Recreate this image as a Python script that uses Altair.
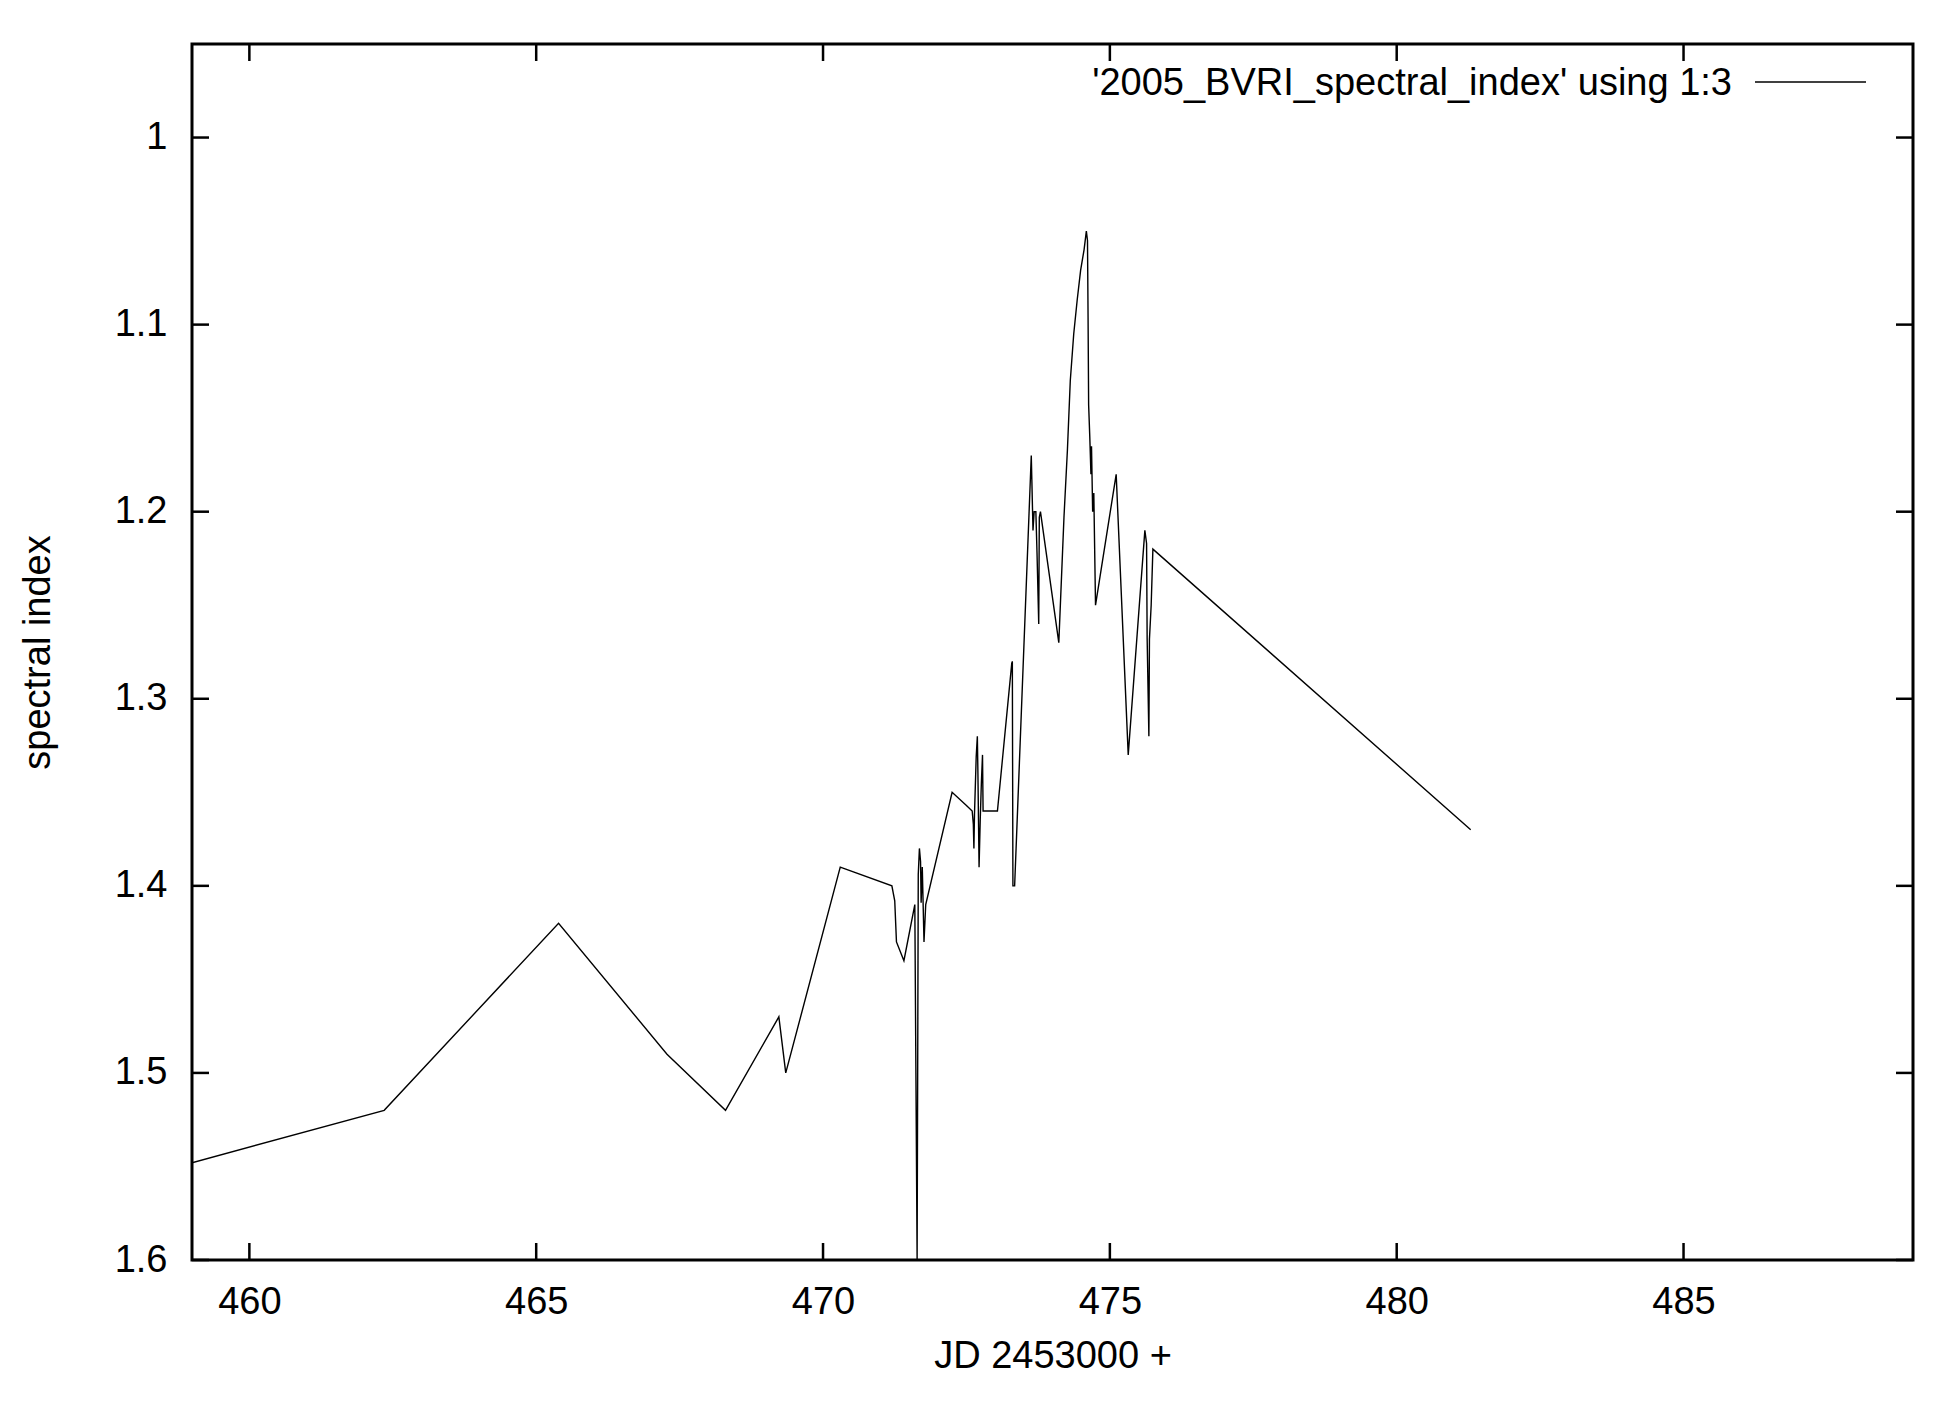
import altair as alt
import pandas as pd

# ---- data ----
jd = [
    459.00, 462.35, 465.39, 467.28, 468.30, 469.23, 469.35, 470.30, 471.20, 471.25,
    471.28, 471.41, 471.60, 471.64, 471.66, 471.68, 471.70, 471.71, 471.73, 471.76,
    471.79, 472.25, 472.50, 472.60, 472.62, 472.63, 472.64, 472.67, 472.69, 472.70,
    472.72, 472.74, 472.76, 472.78, 472.79, 473.04, 473.29, 473.30, 473.31, 473.34,
    473.63, 473.64, 473.66, 473.68, 473.71, 473.73, 473.76, 473.77, 473.79, 474.11,
    474.20, 474.26, 474.31, 474.37, 474.43, 474.49, 474.55,
    474.59, 474.61, 474.62, 474.63, 474.65, 474.67, 474.68, 474.70, 474.72, 474.75,
    475.11, 475.32, 475.61, 475.64, 475.65, 475.68, 475.69, 475.72, 475.75, 481.29,
]
spectral_index = [
    1.548, 1.520, 1.420, 1.490, 1.520, 1.470, 1.500, 1.390, 1.400, 1.408,
    1.430, 1.440, 1.410, 1.600, 1.394, 1.380, 1.387, 1.409, 1.390, 1.430,
    1.410, 1.350, 1.357, 1.360, 1.367, 1.380, 1.362, 1.331, 1.320, 1.340,
    1.390, 1.365, 1.345, 1.330, 1.360, 1.360, 1.281, 1.280, 1.400, 1.400,
    1.170, 1.183, 1.210, 1.200, 1.200, 1.222, 1.260, 1.203, 1.200, 1.270,
    1.203, 1.167, 1.130, 1.105, 1.087, 1.071, 1.060,
    1.050, 1.055, 1.096, 1.143, 1.160, 1.180, 1.165, 1.200, 1.190, 1.250,
    1.180, 1.330, 1.210, 1.217, 1.268, 1.320, 1.268, 1.250, 1.220, 1.370,
]
x_ticks = [460, 465, 470, 475, 480, 485]
y_ticks = [1.0, 1.1, 1.2, 1.3, 1.4, 1.5, 1.6]
x_domain = [459, 489]
y_domain = [0.95, 1.6]
legend_label = "'2005_BVRI_spectral_index' using 1:3"
x_title = "JD 2453000 +"
y_title = "spectral index"

# ---- layout / style ----
W, H = 1721, 1216
FONT = "Liberation Sans"
FS = 38
TICK = 17

df = pd.DataFrame({"jd": jd, "si": spectral_index, "order": list(range(len(jd)))})
xt = pd.DataFrame({"t": x_ticks})
yt = pd.DataFrame({"t": y_ticks})

xs = alt.Scale(domain=x_domain, nice=False, zero=False)
ys = alt.Scale(domain=y_domain, reverse=True, nice=False, zero=False)

x_axis = alt.Axis(values=x_ticks, format="d", title=x_title,
                  labelPadding=53, labelBaseline="alphabetic", labelFlush=False,
                  labelOverlap=False, titleY=107, titleBaseline="alphabetic")
y_axis = alt.Axis(values=y_ticks, format="~g", title=y_title,
                  labelPadding=25, labelBaseline="middle", labelFlush=False,
                  labelOverlap=False, titleX=-143, titleY=H / 2,
                  titleAngle=270, titleBaseline="alphabetic")

line = alt.Chart(df).mark_line(color="black", strokeWidth=1.4, clip=True).encode(
    x=alt.X("jd:Q", scale=xs, axis=x_axis),
    y=alt.Y("si:Q", scale=ys, axis=y_axis),
    order="order:Q",
)

tick_style = dict(color="black", strokeWidth=2.5)
xb = alt.Chart(xt).mark_rule(**tick_style).encode(
    x=alt.X("t:Q", scale=xs, axis=x_axis), y=alt.value(H), y2=alt.value(H - TICK))
xtop = alt.Chart(xt).mark_rule(**tick_style).encode(
    x=alt.X("t:Q", scale=xs, axis=x_axis), y=alt.value(0), y2=alt.value(TICK))
yl = alt.Chart(yt).mark_rule(**tick_style).encode(
    y=alt.Y("t:Q", scale=ys, axis=y_axis), x=alt.value(0), x2=alt.value(TICK))
yr = alt.Chart(yt).mark_rule(**tick_style).encode(
    y=alt.Y("t:Q", scale=ys, axis=y_axis), x=alt.value(W), x2=alt.value(W - TICK))

leg_text = alt.Chart(pd.DataFrame({"label": [legend_label]})).mark_text(
    align="right", baseline="alphabetic", font=FONT, fontSize=FS, color="black"
).encode(x=alt.value(1540), y=alt.value(51), text="label:N")
leg_line = alt.Chart(pd.DataFrame({"label": [legend_label]})).mark_rule(
    color="black", strokeWidth=1.4
).encode(x=alt.value(1563), x2=alt.value(1674), y=alt.value(38))

chart = alt.layer(line, xb, xtop, yl, yr, leg_text, leg_line).properties(
    width=W, height=H,
    padding={"left": 184, "top": 36, "right": 33, "bottom": 140},
    autosize=alt.AutoSizeParams(type="none"),
    background="white",
).configure_view(
    stroke="black", strokeWidth=3
).configure_axis(
    labelFont=FONT, labelFontSize=FS, labelColor="black",
    titleFont=FONT, titleFontSize=FS, titleFontWeight="normal", titleColor="black",
    domain=False, ticks=False, tickSize=0, grid=False,
)

chart.save("out.html", embed_options={"renderer": "svg", "actions": False})
